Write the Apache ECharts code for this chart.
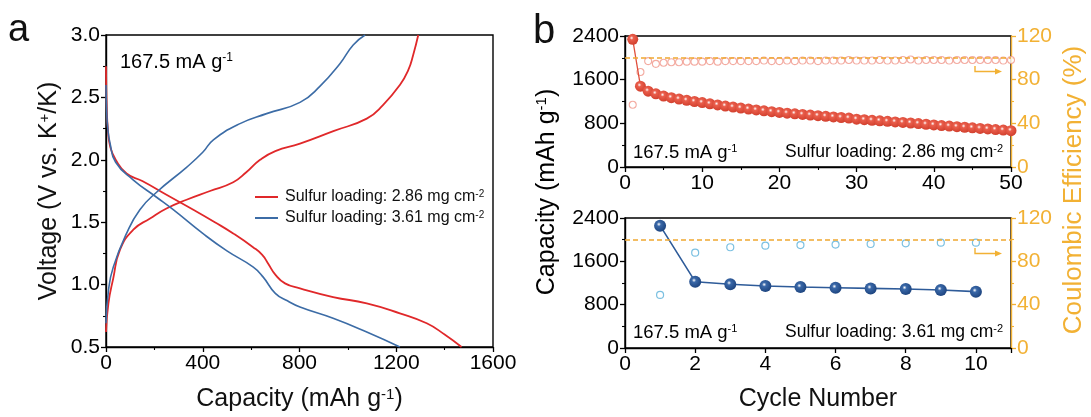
<!DOCTYPE html>
<html><head><meta charset="utf-8">
<script src="https://cdn.jsdelivr.net/npm/echarts@6/dist/echarts.min.js"></script>
<style>html,body{margin:0;padding:0;background:#fff}#c{width:1091px;height:417px}</style>
</head><body><div id="c"></div>
<script>
// ---- Panel a: voltage profiles ----
const aRedDisCap = [0, 3, 8, 18, 40, 85, 150, 250, 361, 450, 526, 608, 645, 670, 700, 740, 802, 939, 1078, 1215, 1326, 1400, 1470];
const aRedDisV   = [2.75, 2.42, 2.24, 2.10, 2.00, 1.89, 1.83, 1.72, 1.60, 1.50, 1.41, 1.30, 1.24, 1.17, 1.08, 1.01, 0.97, 0.90, 0.85, 0.77, 0.69, 0.60, 0.50];
const aRedChgCap = [0, 10, 30, 58, 113, 182, 250, 333, 430, 526, 580, 637, 700, 802, 940, 1078, 1146, 1215, 1250, 1270, 1291];
const aRedChgV   = [0.62, 0.85, 1.05, 1.28, 1.44, 1.53, 1.61, 1.68, 1.75, 1.82, 1.90, 2.00, 2.07, 2.13, 2.23, 2.33, 2.44, 2.60, 2.72, 2.84, 3.0];
const aBlueDisCap = [0, 3, 8, 16, 40, 112, 209, 278, 400, 500, 609, 650, 700, 750, 802, 939, 1078, 1215];
const aBlueDisV   = [2.6, 2.38, 2.24, 2.14, 1.98, 1.84, 1.70, 1.60, 1.41, 1.27, 1.14, 1.06, 0.93, 0.87, 0.82, 0.73, 0.62, 0.50];
const aBlueChgCap = [0, 10, 30, 85, 140, 209, 333, 400, 444, 554, 664, 802, 885, 967, 1022, 1071];
const aBlueChgV   = [0.69, 0.95, 1.14, 1.41, 1.60, 1.74, 1.94, 2.06, 2.16, 2.29, 2.37, 2.46, 2.59, 2.77, 2.92, 3.0];

// ---- Panel b top: 2.86 mg cm-2, 50 cycles ----
const topCycles = Array.from({length: 50}, (_, i) => i + 1);
const topCapacity = [2340, 1480, 1390, 1340, 1300, 1270, 1245, 1222, 1200, 1180, 1158, 1137, 1117, 1098, 1080, 1062, 1045, 1029, 1014, 1000,
  987, 975, 963, 951, 940, 929, 918, 907, 896, 876, 866, 856, 846, 836, 826, 816, 806, 796, 783, 770,
  760, 749, 739, 728, 718, 707, 697, 686, 676, 666];
const topCE = [57, 87, 97, 94.5, 95.5, 96, 96, 96.5, 96.5, 96.5, 97, 96.5, 97, 97, 97, 97, 97, 97.5, 97, 97,
  97.5, 97, 97.5, 97.5, 97, 97.5, 97.5, 97.5, 98, 97.5, 97.5, 97.5, 98, 97.5, 97.5, 98, 98.5, 97.5, 98, 98,
  98, 97.5, 98, 98, 98, 98, 98, 98, 97.5, 98];

// ---- Panel b bottom: 3.61 mg cm-2, 10 cycles ----
const botCycles = [1, 2, 3, 4, 5, 6, 7, 8, 9, 10];
const botCapacity = [2258, 1224, 1176, 1145, 1125, 1112, 1100, 1089, 1071, 1040];
const botCE = [49, 88, 93, 94.5, 95, 95.5, 96, 96.6, 97.2, 97.2];

const aXTicks = {min: 0, max: 1600, interval: 400};
const aYTicks = {min: 0.5, max: 3.0, interval: 0.5};
const capTicks = {min: 0, max: 2400, interval: 800};
const ceTicks = {min: 0, max: 120, interval: 40};

const F = "'Liberation Sans', Arial, sans-serif";
const ORANGE = '#F2B134';
const RED = '#E0282A', BLUE = '#3C6CA6';
const zip = (a, b) => a.map((v, i) => [v, b[i]]);
const plain = v => String(v);

function axisCommon(color) {
  return {
    axisLine: {show: true, lineStyle: {color: color, width: 1.4}},
    axisTick: {show: true, inside: false, length: 5, lineStyle: {color: color, width: 1.3}},
    minorTick: {show: true, splitNumber: 2, length: 3, lineStyle: {color: color, width: 1.1}},
    splitLine: {show: false},
    axisLabel: {color: color, fontFamily: F, fontSize: 21, margin: 6, formatter: plain}
  };
}
const supRich = (size, color) => ({
  t: {fontFamily: F, fontSize: size, color: color},
  s: {fontFamily: F, fontSize: Math.round(size * 0.6), color: color, verticalAlign: 'top'}
});
const ball = (c0, c1) => ({type: 'radial', x: 0.4, y: 0.38, r: 0.62,
  colorStops: [{offset: 0, color: '#ffffff'}, {offset: 0.28, color: c0}, {offset: 1, color: c1}]});

const option = {
  animation: false,
  backgroundColor: '#fff',
  grid: [
    {left: 106, top: 35, width: 387, height: 312, show: true, borderColor: '#000', borderWidth: 1.4},
    {left: 625, top: 36, width: 386, height: 131, show: true, borderColor: '#000', borderWidth: 1.4},
    {left: 625, top: 218, width: 386, height: 130, show: true, borderColor: '#000', borderWidth: 1.4}
  ],
  legend: {
    left: 250, top: 184, orient: 'vertical', itemWidth: 23, itemHeight: 2, itemGap: 5, icon: 'rect',
    data: ['Sulfur loading: 2.86 mg cm', 'Sulfur loading: 3.61 mg cm'],
    formatter: n => '{t|' + n + '}{s|-2}',
    textStyle: {rich: supRich(16, '#111'), padding: [0, 0, 0, 2]}
  },
  xAxis: [
    Object.assign(axisCommon('#000'), {gridIndex: 0, type: 'value', min: aXTicks.min, max: aXTicks.max, interval: aXTicks.interval,
      name: '{t|Capacity (mAh g}{s|-1}{t|)}', nameLocation: 'middle', nameGap: 40,
      nameTextStyle: {rich: supRich(25, '#111')}}),
    Object.assign(axisCommon('#000'), {gridIndex: 1, type: 'value', min: 0, max: 50, interval: 10}),
    Object.assign(axisCommon('#000'), {gridIndex: 2, type: 'value', min: 0, max: 11, interval: 2,
      minorTick: {show: false},
      name: 'Cycle Number', nameLocation: 'middle', nameGap: 39,
      nameTextStyle: {fontFamily: F, fontSize: 25, color: '#111'}})
  ],
  yAxis: [
    Object.assign(axisCommon('#000'), {gridIndex: 0, type: 'value', min: aYTicks.min, max: aYTicks.max, interval: aYTicks.interval,
      name: '{t|Voltage (V vs. K}{s|+}{t|/K)}', nameLocation: 'middle', nameGap: 44,
      nameTextStyle: {rich: supRich(25, '#111')}}),
    Object.assign(axisCommon('#000'), {gridIndex: 1, type: 'value', min: capTicks.min, max: capTicks.max, interval: capTicks.interval}),
    Object.assign(axisCommon(ORANGE), {gridIndex: 1, type: 'value', position: 'right', min: ceTicks.min, max: ceTicks.max, interval: ceTicks.interval}),
    Object.assign(axisCommon('#000'), {gridIndex: 2, type: 'value', min: capTicks.min, max: capTicks.max, interval: capTicks.interval}),
    Object.assign(axisCommon(ORANGE), {gridIndex: 2, type: 'value', position: 'right', min: ceTicks.min, max: ceTicks.max, interval: ceTicks.interval})
  ],
  series: [
    {name: 'Sulfur loading: 2.86 mg cm', type: 'line', xAxisIndex: 0, yAxisIndex: 0, data: zip(aRedDisCap, aRedDisV),
      showSymbol: false, smooth: 0.5, color: RED, lineStyle: {width: 1.8, color: RED}},
    {name: 'Sulfur loading: 2.86 mg cm', type: 'line', xAxisIndex: 0, yAxisIndex: 0, data: zip(aRedChgCap, aRedChgV),
      showSymbol: false, smooth: 0.5, color: RED, lineStyle: {width: 1.8, color: RED}},
    {name: 'Sulfur loading: 3.61 mg cm', type: 'line', xAxisIndex: 0, yAxisIndex: 0, data: zip(aBlueDisCap, aBlueDisV),
      showSymbol: false, smooth: 0.5, color: BLUE, lineStyle: {width: 1.6, color: BLUE}},
    {name: 'Sulfur loading: 3.61 mg cm', type: 'line', xAxisIndex: 0, yAxisIndex: 0, data: zip(aBlueChgCap, aBlueChgV),
      showSymbol: false, smooth: 0.5, color: BLUE, lineStyle: {width: 1.6, color: BLUE}},
    // top CE
    {type: 'scatter', xAxisIndex: 1, yAxisIndex: 2, data: zip(topCycles, topCE), symbol: 'circle', symbolSize: 7,
      itemStyle: {color: '#fff', borderColor: '#F0968A', borderWidth: 1.1},
      markLine: {silent: true, symbol: 'none', label: {show: false}, lineStyle: {color: '#F0A830', type: [5, 3], width: 1.5},
        data: [{yAxis: 100}]}, z: 3},
    // top capacity
    {type: 'line', xAxisIndex: 1, yAxisIndex: 1, data: zip(topCycles, topCapacity), symbol: 'circle', symbolSize: 11,
      lineStyle: {color: '#E0503E', width: 1.3}, itemStyle: {color: ball('#EA5E4C', '#D2402E')}, z: 4},
    // bottom CE
    {type: 'scatter', xAxisIndex: 2, yAxisIndex: 4, data: zip(botCycles, botCE), symbol: 'circle', symbolSize: 7,
      itemStyle: {color: '#fff', borderColor: '#5AB0DA', borderWidth: 1.2},
      markLine: {silent: true, symbol: 'none', label: {show: false}, lineStyle: {color: '#F0A830', type: [5, 3], width: 1.5},
        data: [{yAxis: 100}]}, z: 3},
    // bottom capacity
    {type: 'line', xAxisIndex: 2, yAxisIndex: 3, data: zip(botCycles, botCapacity), symbol: 'circle', symbolSize: 12,
      lineStyle: {color: '#2E5B99', width: 1.6}, itemStyle: {color: ball('#3A68A8', '#1E4580')}, z: 4}
  ],
  graphic: [
    {type: 'text', left: 8, top: 12, style: {text: 'a', font: '38px ' + F, fill: '#111'}},
    {type: 'text', left: 533, top: 12, style: {text: 'b', font: '40px ' + F, fill: '#111'}},
    {type: 'text', x: 120, y: 52, style: {text: '{t|167.5 mA g}{s|-1}', rich: supRich(20, '#111')}},
    {type: 'text', x: 633, y: 143, style: {text: '{t|167.5 mA g}{s|-1}', rich: supRich(18.5, '#111')}},
    {type: 'text', x: 1003, y: 143, style: {text: '{t|Sulfur loading: 2.86 mg cm}{s|-2}', align: 'right', rich: supRich(17.5, '#111')}},
    {type: 'text', x: 633, y: 323, style: {text: '{t|167.5 mA g}{s|-1}', rich: supRich(18.5, '#111')}},
    {type: 'text', x: 1003, y: 323, style: {text: '{t|Sulfur loading: 3.61 mg cm}{s|-2}', align: 'right', rich: supRich(17.5, '#111')}},
    {type: 'text', x: 547, y: 192, rotation: Math.PI / 2,
      style: {text: '{t|Capacity (mAh g}{s|-1}{t|)}', align: 'center', verticalAlign: 'middle', rich: supRich(25, '#111')}},
    {type: 'text', x: 1074, y: 190, rotation: Math.PI / 2,
      style: {text: 'Coulombic Efficiency (%)', align: 'center', verticalAlign: 'middle', font: '26px ' + F, fill: ORANGE}},
    {type: 'polyline', shape: {points: [[975, 66], [975, 71.5], [996, 71.5]]}, style: {stroke: ORANGE, lineWidth: 1.4, fill: null}},
    {type: 'polygon', shape: {points: [[995, 68.5], [1002, 71.5], [995, 74.5]]}, style: {fill: ORANGE}},
    {type: 'polyline', shape: {points: [[975, 248], [975, 253.5], [996, 253.5]]}, style: {stroke: ORANGE, lineWidth: 1.4, fill: null}},
    {type: 'polygon', shape: {points: [[995, 250.5], [1002, 253.5], [995, 256.5]]}, style: {fill: ORANGE}}
  ]
};
option.xAxis[2].axisLabel.formatter = v => (v === 11 ? '' : String(v));
option.yAxis[0].axisLabel.formatter = v => v.toFixed(1);
const chart = echarts.init(document.getElementById('c'), null, {renderer: 'canvas'});
chart.setOption(option);
</script></body></html>
